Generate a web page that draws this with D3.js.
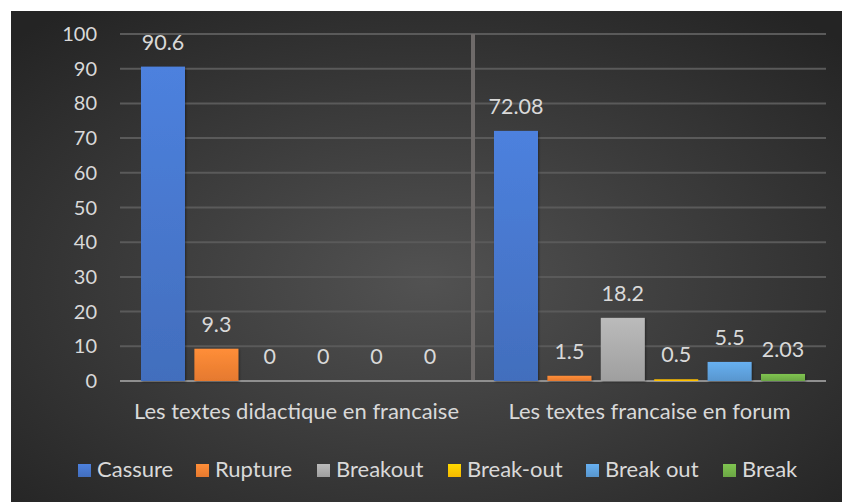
<!doctype html>
<html lang="fr">
  <head>
    <meta charset="utf-8">
    <title>Cassure / Rupture</title>
    <script src="https://d3js.org/d3.v7.min.js"></script>
    <style>
    body { margin: 0; background: #fff; }
    text { font-family: Lato, "Open Sans", sans-serif; fill: #d9d9d9; }
    </style>
  </head>
  <body>
    <svg width="842" height="502"></svg>

    <script>
      // data
      var categories = ['Les textes didactique en francaise', 'Les textes francaise en forum'];
      var seriesNames = ['Cassure', 'Rupture', 'Breakout', 'Break-out', 'Break out', 'Break'];
      var seriesColors = ['#4472c4', '#ed7d31', '#a5a5a5', '#ffc000', '#5b9bd5', '#70ad47'];
      var valuesDidactique = [90.6, 9.3, 0, 0, 0, 0];
      var valuesForum = [72.08, 1.5, 18.2, 0.5, 5.5, 2.03];
      var valueLabels = [['90.6', '9.3', '0', '0', '0', '0'], ['72.08', '1.5', '18.2', '0.5', '5.5', '2.03']];
      var yTicks = [0, 10, 20, 30, 40, 50, 60, 70, 80, 90, 100];

      var allValues = [valuesDidactique, valuesForum];

      var svg = d3.select('svg');
      var defs = svg.append('defs');

      // background
      var bg = defs.append('radialGradient').attr('id', 'bg')
        .attr('cx', '0.5').attr('cy', '0.55').attr('r', '0.7');
      bg.append('stop').attr('offset', '0%').attr('stop-color', '#525252');
      bg.append('stop').attr('offset', '100%').attr('stop-color', '#242424');

      svg.append('rect')
        .attr('x', 11).attr('y', 11)
        .attr('width', 831).attr('height', 491)
        .attr('fill', 'url(#bg)');

      seriesColors.forEach(function(c, i){
        var g = defs.append('linearGradient').attr('id', 'bar' + i)
          .attr('x1', 0).attr('y1', 0).attr('x2', 0).attr('y2', 1);
        g.append('stop').attr('offset', '0%').attr('stop-color', d3.color(c).brighter(0.35));
        g.append('stop').attr('offset', '100%').attr('stop-color', d3.color(c).darker(0.1));
      });

      var shadow = defs.append('filter').attr('id', 'shadow')
        .attr('x', '-20%').attr('y', '-20%').attr('width', '140%').attr('height', '140%');
      shadow.append('feDropShadow').attr('dx', 1).attr('dy', 1).attr('stdDeviation', 1.2)
        .attr('flood-color', '#000').attr('flood-opacity', 0.4);

      var x0 = d3.scaleBand()
        .domain(categories)
        .range([120, 826]);

      var x1 = d3.scaleBand()
        .domain(seriesNames)
        .range([0, x0.bandwidth()])
        .paddingInner(0.176)
        .paddingOuter(0.393);

      var y = d3.scaleLinear()
        .domain([0, 100])
        .range([381, 34]);

      // gridlines
      svg.append('g').selectAll('line')
        .data(yTicks.slice(1))
        .enter()
        .append('line')
          .attr('x1', 120).attr('x2', 826)
          .attr('y1', function(d){ return y(d); })
          .attr('y2', function(d){ return y(d); })
          .attr('stroke', '#5a5a5a')
          .attr('stroke-width', 2);

      // y tick labels
      svg.append('g').selectAll('text')
        .data(yTicks)
        .enter()
        .append('text')
          .attr('x', 97)
          .attr('y', function(d){ return y(d) + 7; })
          .attr('text-anchor', 'end')
          .attr('font-size', 20)
          .text(function(d){ return d; });

      // separator between categories
      svg.append('line')
        .attr('x1', x0(categories[1])).attr('x2', x0(categories[1]))
        .attr('y1', y(100)).attr('y2', y(0))
        .attr('stroke', '#6e6a69')
        .attr('stroke-width', 4);

      // x axis line
      svg.append('line')
        .attr('x1', 120).attr('x2', 826)
        .attr('y1', y(0)).attr('y2', y(0))
        .attr('stroke', '#8f8f8f')
        .attr('stroke-width', 2);

      // bars
      var groups = svg.append('g').selectAll('g')
        .data(categories)
        .enter()
        .append('g')
          .attr('transform', function(d){ return 'translate(' + x0(d) + ',0)'; });

      groups.selectAll('rect')
        .data(function(d, ci){
          return seriesNames.map(function(s, si){ return {s: s, si: si, v: allValues[ci][si]}; });
        })
        .enter()
        .filter(function(d){ return d.v > 0; })
        .append('rect')
          .attr('x', function(d){ return x1(d.s); })
          .attr('width', x1.bandwidth())
          .attr('y', function(d){ return y(d.v); })
          .attr('height', function(d){ return y(0) - y(d.v); })
          .attr('fill', function(d){ return y(0) - y(d.v) < 4 ? seriesColors[d.si] : 'url(#bar' + d.si + ')'; })
          .attr('filter', function(d){ return y(0) - y(d.v) < 4 ? null : 'url(#shadow)'; });

      groups.selectAll('text')
        .data(function(d, ci){
          return seriesNames.map(function(s, si){ return {s: s, v: allValues[ci][si], label: valueLabels[ci][si]}; });
        })
        .enter()
        .append('text')
          .attr('x', function(d){ return x1(d.s) + x1.bandwidth() / 2; })
          .attr('y', function(d){ return y(d.v) - 17; })
          .attr('text-anchor', 'middle')
          .attr('font-size', 21.5)
          .text(function(d){ return d.label; });

      // category labels
      svg.append('g').selectAll('text')
        .data(categories)
        .enter()
        .append('text')
          .attr('x', function(d){ return x0(d) + x0.bandwidth() / 2; })
          .attr('y', 419)
          .attr('text-anchor', 'middle')
          .attr('font-size', 22)
          .text(function(d){ return d; });

      // legend
      var legendX = [78, 196, 317, 448, 586, 723];
      var legend = svg.append('g').selectAll('g')
        .data(seriesNames)
        .enter()
        .append('g')
          .attr('transform', function(d, i){ return 'translate(' + legendX[i] + ',464)'; });

      legend.append('rect')
        .attr('width', 13).attr('height', 13)
        .attr('fill', function(d, i){ return 'url(#bar' + i + ')'; });

      legend.append('text')
        .attr('x', 19).attr('y', 13)
        .attr('font-size', 22)
        .text(function(d){ return d; });
    </script>
  </body>
</html>
